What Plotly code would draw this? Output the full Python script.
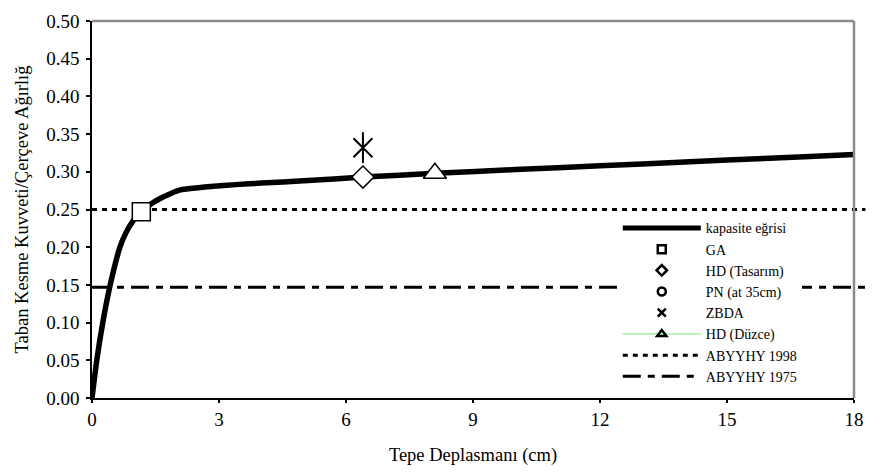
import plotly.graph_objects as go

# Capacity (pushover) curve: roof displacement (cm) vs base shear / frame weight
curve_x = [0, 0.113, 0.255, 0.43, 0.66, 0.8, 0.97, 1.165, 1.4, 1.61, 1.85, 2.09, 2.45,
           2.8, 3.4, 4.0, 5.0, 6.4, 8.1, 10.0, 12.0, 14.0, 16.0, 18.0, 18.5]
curve_y = [0, 0.05, 0.10, 0.15, 0.20, 0.219, 0.235, 0.247, 0.2575, 0.2646, 0.271, 0.276, 0.2785,
           0.2806, 0.283, 0.285, 0.288, 0.293, 0.298, 0.303, 0.308, 0.313, 0.318, 0.323, 0.324]

# Performance points
ga_x, ga_y = [1.165], [0.247]
hd_tasarim_x, hd_tasarim_y = [6.4], [0.293]
zbda_x, zbda_y = [6.4], [0.332]
hd_duzce_x, hd_duzce_y = [8.1], [0.298]

# Code base-shear levels
abyyhy_1998 = 0.25
abyyhy_1975 = 0.147

x_ticks = [0, 3, 6, 9, 12, 15, 18]
y_ticks = [0.00, 0.05, 0.10, 0.15, 0.20, 0.25, 0.30, 0.35, 0.40, 0.45, 0.50]

FONT = "Liberation Serif"
DOT = "5px,5px"
DASHDOT = "18px,7px,7px,7px"

fig = go.Figure()

# capacity curve
fig.add_trace(go.Scatter(x=curve_x, y=curve_y, mode="lines",
                         line=dict(color="black", width=5.5, shape="spline", smoothing=0.6),
                         name="kapasite eğrisi", showlegend=False))

def point(x, y, symbol, size, lw=1.5):
    fig.add_trace(go.Scatter(x=x, y=y, mode="markers", showlegend=False,
                             marker=dict(symbol=symbol, size=size, color="white",
                                         line=dict(color="black", width=lw))))

point(ga_x, ga_y, "square", 18)
point(hd_tasarim_x, hd_tasarim_y, "diamond", 17)
point(hd_duzce_x, hd_duzce_y, "triangle-up", 20)
# ZBDA: six-spoke star (diagonal cross + vertical stroke)
fig.add_trace(go.Scatter(x=zbda_x, y=zbda_y, mode="markers", showlegend=False,
                         marker=dict(symbol="x-thin-open", size=19, color="black",
                                     line=dict(color="black", width=2))))
fig.add_trace(go.Scatter(x=zbda_x, y=zbda_y, mode="markers", showlegend=False,
                         marker=dict(symbol="line-ns-open", size=22, color="black",
                                     line=dict(color="black", width=2))))

# horizontal code levels, running a little past the frame on the right
for level, dash in [(abyyhy_1998, DOT), (abyyhy_1975, DASHDOT)]:
    fig.add_shape(type="line", xref="paper", yref="y", x0=0, x1=1.015, y0=level, y1=level,
                  line=dict(color="black", width=3, dash=dash), layer="below")

# legend entries
def leg(name, mode, **kw):
    fig.add_trace(go.Scatter(x=[None], y=[None], mode=mode, name=name, **kw))

mk = dict(size=8, color="black", line=dict(color="black", width=2.5))
leg("kapasite eğrisi", "lines", line=dict(color="black", width=5))
leg("GA", "markers", marker=dict(symbol="square-open", **mk))
leg("HD (Tasarım)", "markers", marker=dict(symbol="diamond-open", **mk))
leg("PN (at 35cm)", "markers", marker=dict(symbol="circle-open", **mk))
leg("ZBDA", "markers", marker=dict(symbol="x-thin-open", **mk))
leg("HD (Düzce)", "lines+markers", line=dict(color="#b9f3b9", width=2),
    marker=dict(symbol="triangle-up-open", **mk))
leg("ABYYHY 1998", "lines", line=dict(color="black", width=3, dash=DOT))
leg("ABYYHY 1975", "lines", line=dict(color="black", width=3, dash=DASHDOT))

# grey top and right frame
fig.add_shape(type="line", xref="paper", yref="paper", x0=0, x1=1, y0=1, y1=1,
              line=dict(color="#8a8a8a", width=2.5))
fig.add_shape(type="line", xref="paper", yref="paper", x0=1, x1=1, y0=0, y1=1,
              line=dict(color="#8a8a8a", width=2.5))

fig.update_layout(
    width=880, height=473,
    margin=dict(l=92, r=26, t=11, b=73),
    paper_bgcolor="white", plot_bgcolor="white",
    font=dict(family=FONT, size=18, color="black"),
    showlegend=True,
    legend=dict(x=0.69, y=0.4925, xanchor="left", yanchor="top", bgcolor="white",
                borderwidth=0, itemwidth=78, font=dict(family=FONT, size=14, color="black"),
                tracegroupgap=0),
    xaxis=dict(range=[0, 18], tickvals=x_ticks, ticktext=[str(v) for v in x_ticks],
               showgrid=False, zeroline=False, showline=True, linecolor="black", linewidth=1.5,
               ticks="outside", ticklen=3, tickcolor="black", tickwidth=1.5, ticklabelstandoff=0,
               tickfont=dict(family=FONT, size=19),
               title=dict(text="Tepe Deplasmanı (cm)", font=dict(family=FONT, size=18.5), standoff=20)),
    yaxis=dict(range=[0, 0.5], tickvals=y_ticks, ticktext=[f"{v:.2f}" for v in y_ticks],
               showgrid=False, zeroline=False, showline=True, linecolor="black", linewidth=1.5,
               ticks="outside", ticklen=4, tickcolor="black", tickwidth=1.5, ticklabelstandoff=3,
               tickfont=dict(family=FONT, size=19),
               title=dict(text="Taban Kesme Kuvveti/Çerçeve Ağırlığ", font=dict(family=FONT, size=18.5), standoff=13)),
)

fig.write_html("out.html")
